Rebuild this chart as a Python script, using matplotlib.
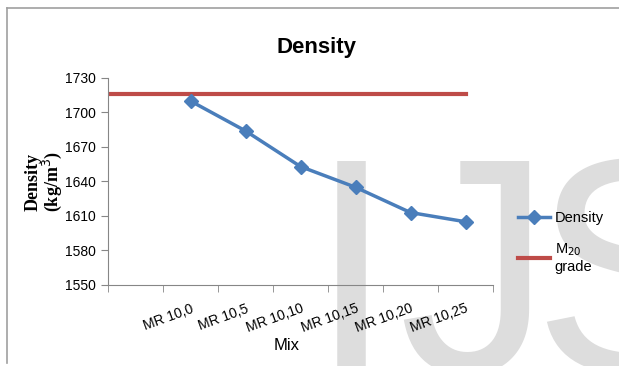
import matplotlib.pyplot as plt
from matplotlib.lines import Line2D

mixes = ['', 'MR 10,0', 'MR 10,5', 'MR 10,10', 'MR 10,15', 'MR 10,20', 'MR 10,25']
density = [None, 1710, 1684, 1653, 1635, 1613, 1605]
m20_grade = 1716
y_ticks = [1550, 1580, 1610, 1640, 1670, 1700, 1730]

plt.rcParams['font.family'] = ['Liberation Sans Narrow', 'Liberation Sans', 'DejaVu Sans']

fig = plt.figure(figsize=(6.19, 3.66), dpi=100)
W, H = 619, 366

# watermark behind the chart
wm = dict(fontsize=220, color='#dddddd', family='Liberation Sans',
          ha='left', va='baseline', zorder=-5)
fig.text(309 / W, 1 - 372 / H, 'I', **wm)
fig.text(398 / W, 1 - 372 / H, 'J', **wm)
fig.text(532 / W, 1 - 372 / H, 'S', **wm)

# outer frame of the chart
fig.add_artist(Line2D([7 / W, 7 / W], [1 - 363 / H, 1 - 8 / H], color='#a0a0a0', lw=1.2))
fig.add_artist(Line2D([7 / W, 1], [1 - 8 / H, 1 - 8 / H], color='#a0a0a0', lw=1.2))

ax = fig.add_axes([108 / W, 1 - 285 / H, 385 / W, 207 / H])
ax.patch.set_alpha(0)

x = list(range(len(mixes)))
xs = [i for i, v in zip(x, density) if v is not None]
ys = [v for v in density if v is not None]
line1, = ax.plot(xs, ys, color='#4a7ebb', lw=2.5, marker='D', markersize=7, zorder=3)
line2, = ax.plot([-0.5, x[-1]], [m20_grade, m20_grade], color='#be4b48', lw=3, zorder=2)

ax.set_xlim(-0.5, len(mixes) - 0.5)
ax.set_ylim(1550, 1730)
ax.set_yticks(y_ticks)
ax.tick_params(axis='y', labelsize=10, length=5, color='#868686', pad=4)

ax.set_xticks(x)
ax.set_xticklabels(mixes, rotation=20, ha='right', rotation_mode='anchor', fontsize=10)
ax.set_xticks([i - 0.5 for i in range(len(mixes) + 1)], minor=True)
ax.tick_params(axis='x', which='major', length=0, pad=12)
ax.tick_params(axis='x', which='minor', length=5, color='#868686')

for s in ['top', 'right']:
    ax.spines[s].set_visible(False)
for s in ['left', 'bottom']:
    ax.spines[s].set_color('#868686')

ax.set_xlabel('Mix', fontsize=12)
ax.xaxis.set_label_coords(0.465, -0.255)
ax.set_ylabel('Density\n(kg/m$^3$)', family='Liberation Serif', fontweight='bold',
              fontsize=13, linespacing=0.95)
ax.yaxis.set_label_coords(-0.115, 0.5)

fig.text(316 / W, 1 - 47 / H, 'Density', fontsize=16, fontweight='bold',
         ha='center', va='center')

fig.legend([line1, line2], ['Density', 'M$_{20}$\ngrade'], loc='upper left',
           bbox_to_anchor=(505 / W, 1 - 198 / H), frameon=False, fontsize=10.5,
           handlelength=2.2, handletextpad=0.3, labelspacing=1.1)

fig.savefig('out.png', dpi=100)
